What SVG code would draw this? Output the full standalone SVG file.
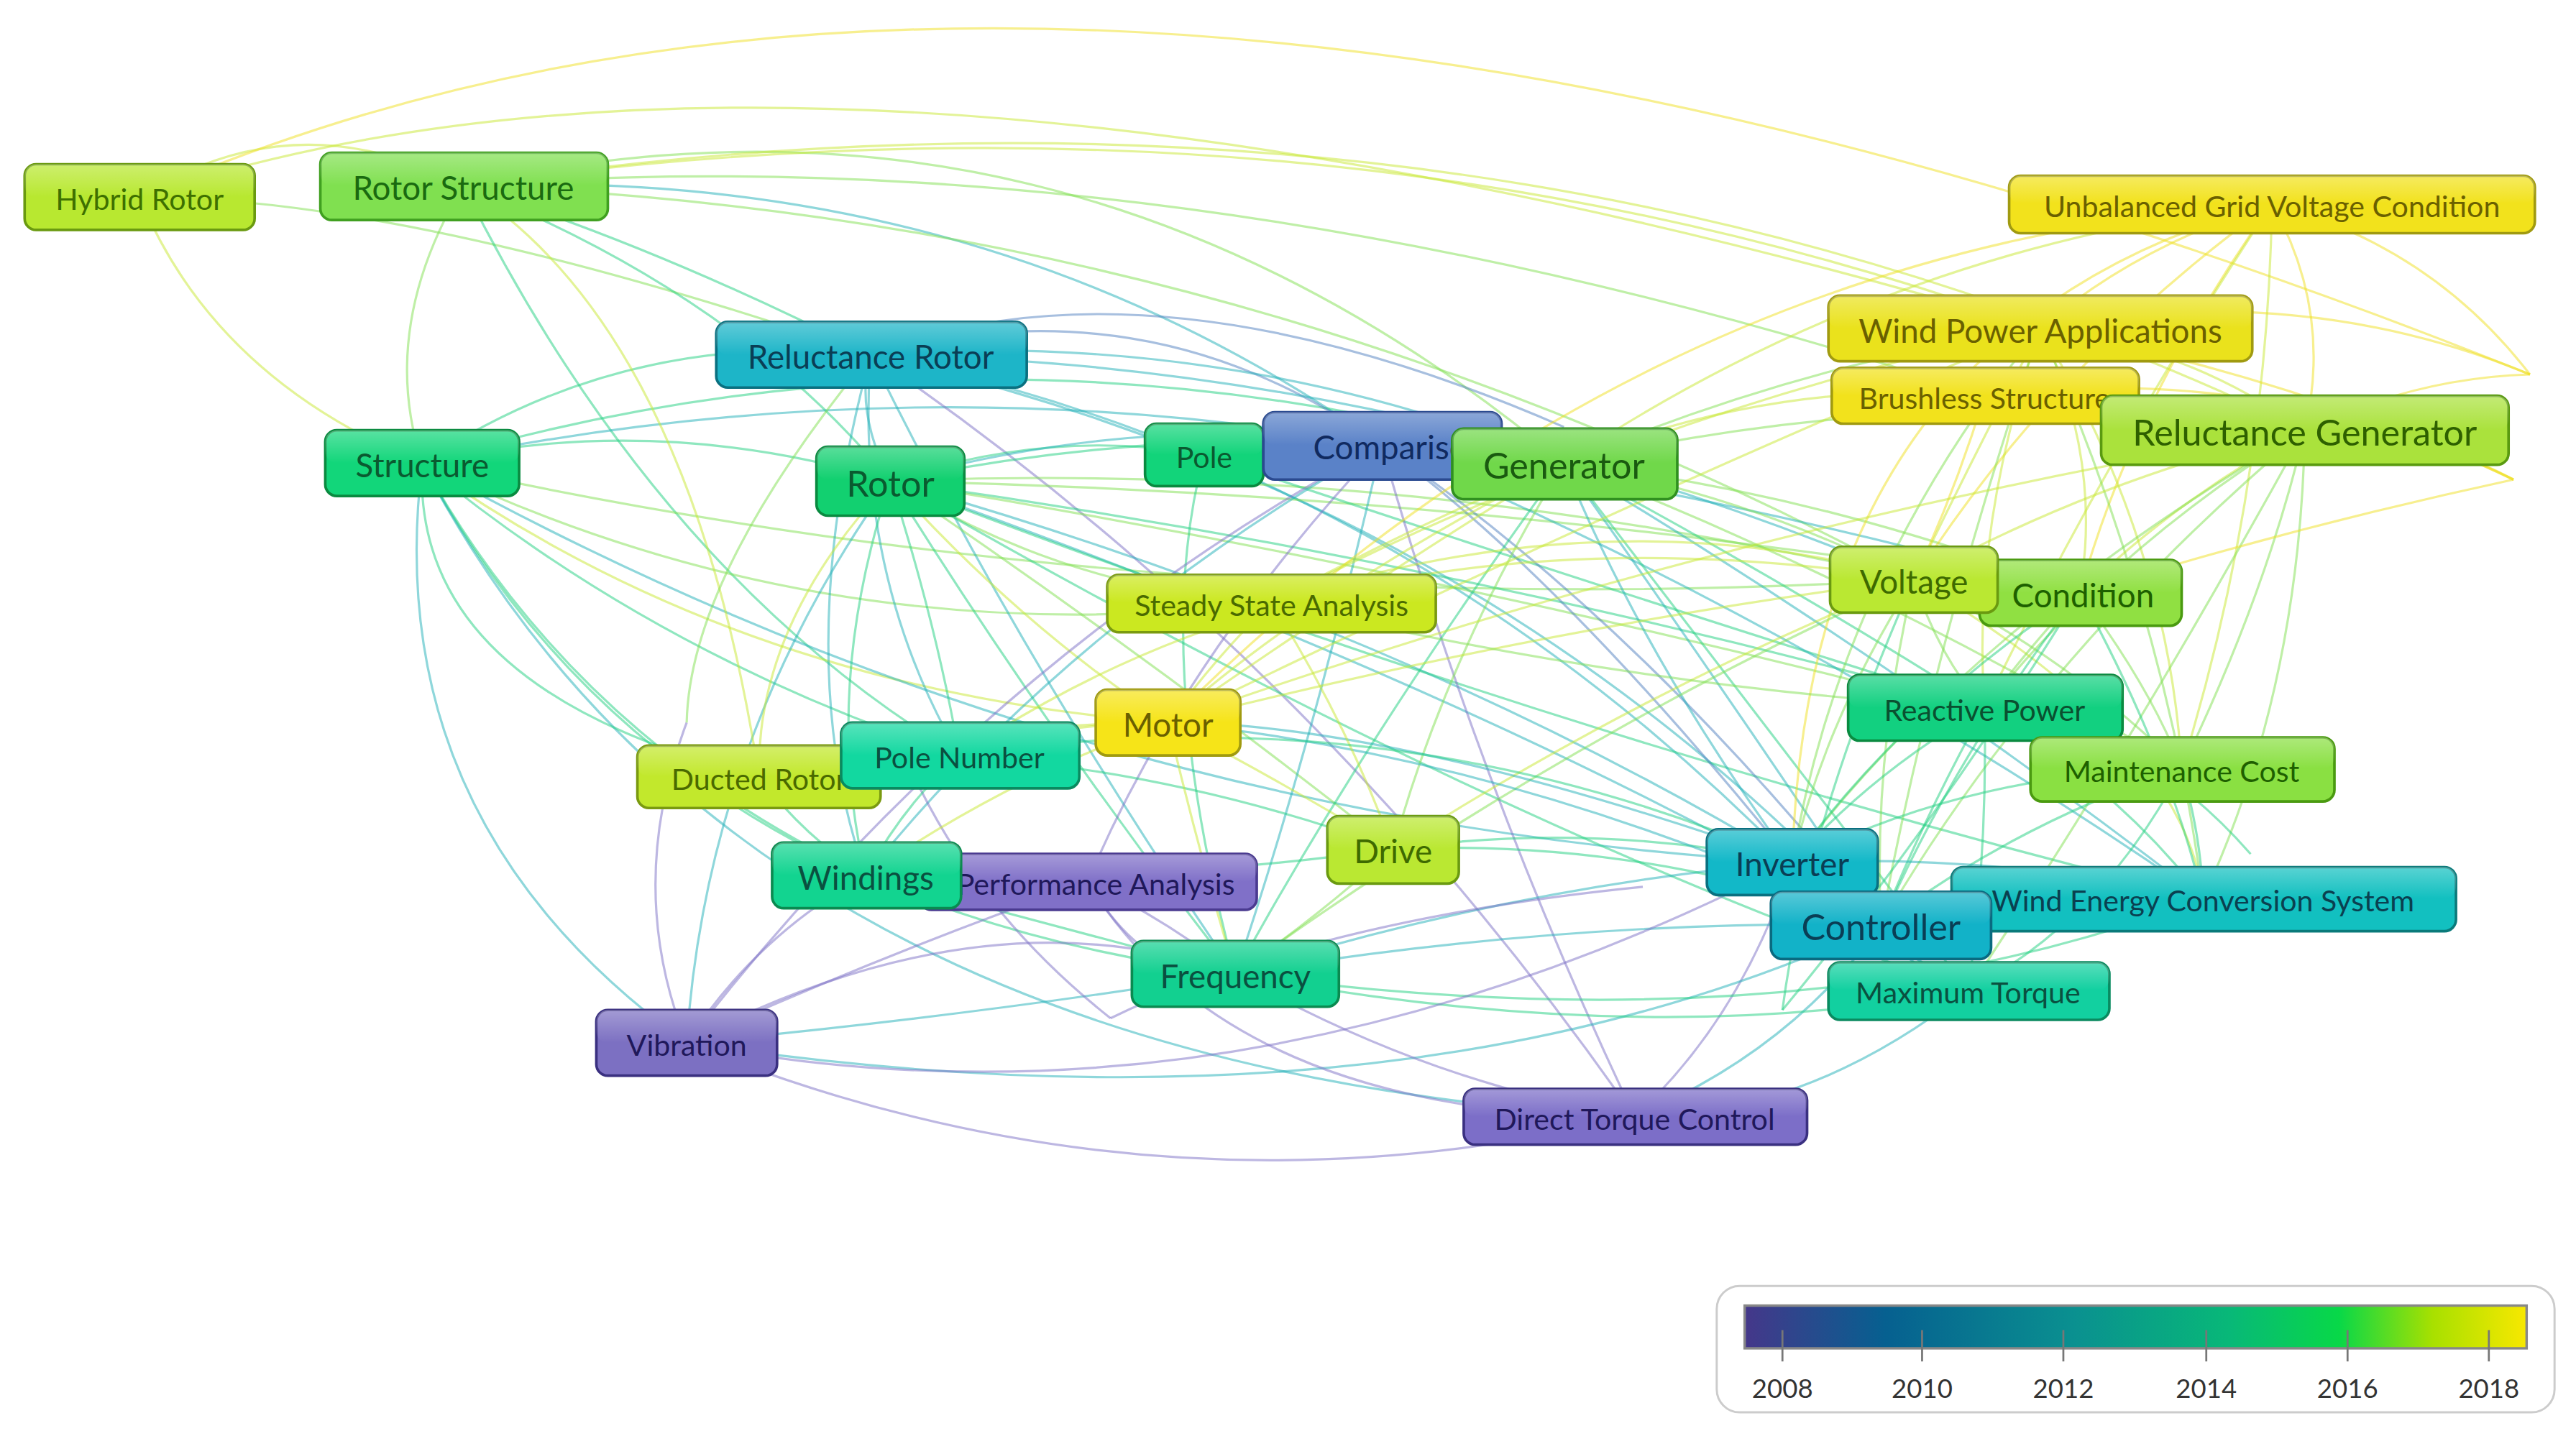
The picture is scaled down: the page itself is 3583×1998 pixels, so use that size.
<svg xmlns="http://www.w3.org/2000/svg" width="3583" height="1998" viewBox="0 0 3583 1998">
<defs>
<style>
.e{fill:none;stroke-width:1.4;opacity:.5}
.p{stroke:#7b6fc6}.b{stroke:#4f80c0}.t{stroke:#20b0b8}.g{stroke:#20d080}.lg{stroke:#80e050}.l{stroke:#c8e830}.y{stroke:#f0e020}
.n rect{stroke-width:1.6}
.n text{font-family:Lato,"Open Sans","Liberation Sans",sans-serif;text-anchor:middle;dominant-baseline:central}
.gl{fill:url(#gloss);stroke:none}
</style>
<linearGradient id="gloss" x1="0" y1="0" x2="0" y2="1"><stop offset="0" stop-color="#fff" stop-opacity=".3"/><stop offset="1" stop-color="#fff" stop-opacity="0"/></linearGradient>
<linearGradient id="leg" x1="0" y1="0" x2="1" y2="0">
<stop offset="0" stop-color="#45378a"/><stop offset=".18" stop-color="#066090"/><stop offset=".42" stop-color="#0a9090"/><stop offset=".62" stop-color="#08b878"/><stop offset=".76" stop-color="#08d848"/><stop offset=".88" stop-color="#a8e000"/><stop offset="1" stop-color="#f8e800"/></linearGradient>
</defs>
<rect width="3583" height="1998" fill="#fff"/>
<g transform="scale(2.285)">
<g id="edges">
<path class="e l" d="M85 120 Q180 60 282 113"/>
<path class="e l" d="M85 120 Q130 230 257 282"/>
<path class="e lg" d="M85 120 Q250 120 530 216"/>
<path class="e y" d="M85 120 Q650 -130 1540 228"/>
<path class="e l" d="M85 120 Q500 -20 1242 200"/>
<path class="e lg" d="M282 113 Q230 200 257 282"/>
<path class="e g" d="M282 113 Q400 150 530 216"/>
<path class="e g" d="M282 113 Q450 180 542 293"/>
<path class="e lg" d="M282 113 Q650 30 952 282"/>
<path class="e l" d="M282 113 Q800 40 1242 200"/>
<path class="e l" d="M282 113 Q900 20 1403 262"/>
<path class="e t" d="M282 113 Q600 100 841 271"/>
<path class="e lg" d="M282 113 Q750 130 1165 353"/>
<path class="e g" d="M282 113 Q400 350 584 460"/>
<path class="e lg" d="M282 113 Q720 80 1208 241"/>
<path class="e g" d="M257 282 Q400 250 542 293"/>
<path class="e g" d="M257 282 Q380 200 530 216"/>
<path class="e g" d="M257 282 Q600 180 952 282"/>
<path class="e t" d="M257 282 Q550 220 841 271"/>
<path class="e t" d="M257 282 Q230 500 418 635"/>
<path class="e g" d="M257 282 Q350 450 527 533"/>
<path class="e g" d="M257 282 Q400 400 584 460"/>
<path class="e g" d="M257 282 Q400 550 752 593"/>
<path class="e lg" d="M257 282 Q500 400 774 367"/>
<path class="e l" d="M257 282 Q450 420 711 440"/>
<path class="e lg" d="M257 282 Q700 380 1165 353"/>
<path class="e t" d="M257 282 Q450 650 995 680"/>
<path class="e t" d="M257 282 Q650 500 1091 525"/>
<path class="e g" d="M257 282 Q250 420 462 473"/>
<path class="e b" d="M530 216 Q700 170 841 271"/>
<path class="e t" d="M530 216 Q750 200 952 282"/>
<path class="e t" d="M530 216 Q520 250 542 293"/>
<path class="e t" d="M530 216 Q520 350 584 460"/>
<path class="e t" d="M530 216 Q850 280 1091 525"/>
<path class="e t" d="M530 216 Q900 300 1145 563"/>
<path class="e t" d="M530 216 Q480 400 527 533"/>
<path class="e t" d="M530 216 Q620 400 752 593"/>
<path class="e p" d="M530 216 Q800 400 995 680"/>
<path class="e t" d="M530 216 Q850 220 1165 353"/>
<path class="e b" d="M530 216 Q700 150 952 260"/>
<path class="e g" d="M542 293 Q750 250 952 282"/>
<path class="e g" d="M542 293 Q640 260 733 277"/>
<path class="e t" d="M542 293 Q700 250 841 271"/>
<path class="e lg" d="M542 293 Q650 360 774 367"/>
<path class="e l" d="M542 293 Q620 380 711 440"/>
<path class="e g" d="M542 293 Q570 380 584 460"/>
<path class="e g" d="M542 293 Q500 420 527 533"/>
<path class="e g" d="M542 293 Q640 450 752 593"/>
<path class="e lg" d="M542 293 Q700 400 848 517"/>
<path class="e t" d="M542 293 Q850 380 1091 525"/>
<path class="e t" d="M542 293 Q900 420 1145 563"/>
<path class="e lg" d="M542 293 Q850 280 1165 353"/>
<path class="e lg" d="M542 293 Q900 300 1266 361"/>
<path class="e g" d="M542 293 Q880 340 1208 431"/>
<path class="e lg" d="M542 293 Q950 360 1328 468"/>
<path class="e t" d="M542 293 Q430 450 418 635"/>
<path class="e l" d="M542 293 Q460 380 462 473"/>
<path class="e g" d="M542 293 Q950 450 1341 547"/>
<path class="e g" d="M542 293 Q900 500 1198 603"/>
<path class="e g" d="M733 277 Q840 250 952 282"/>
<path class="e g" d="M733 277 Q700 400 752 593"/>
<path class="e g" d="M733 277 Q950 350 1208 431"/>
<path class="e b" d="M841 271 Q900 250 952 282"/>
<path class="e b" d="M841 271 Q950 350 1091 525"/>
<path class="e b" d="M841 271 Q1000 380 1145 563"/>
<path class="e t" d="M841 271 Q800 450 752 593"/>
<path class="e p" d="M841 271 Q900 480 995 680"/>
<path class="e p" d="M841 271 Q600 400 418 635"/>
<path class="e p" d="M841 271 Q720 400 662 537"/>
<path class="e t" d="M841 271 Q650 380 527 533"/>
<path class="e t" d="M841 271 Q1050 300 1266 361"/>
<path class="e t" d="M841 271 Q1100 380 1341 547"/>
<path class="e lg" d="M952 282 Q1100 220 1242 200"/>
<path class="e lg" d="M952 282 Q1180 230 1403 262"/>
<path class="e lg" d="M952 282 Q1060 300 1165 353"/>
<path class="e lg" d="M952 282 Q1110 300 1266 361"/>
<path class="e g" d="M952 282 Q1080 350 1208 431"/>
<path class="e lg" d="M952 282 Q1150 360 1328 468"/>
<path class="e t" d="M952 282 Q1000 400 1091 525"/>
<path class="e t" d="M952 282 Q1050 420 1145 563"/>
<path class="e t" d="M952 282 Q1150 400 1341 547"/>
<path class="e g" d="M952 282 Q1080 450 1198 603"/>
<path class="e lg" d="M952 282 Q880 400 848 517"/>
<path class="e g" d="M952 282 Q830 450 752 593"/>
<path class="e l" d="M952 282 Q860 320 774 367"/>
<path class="e l" d="M952 282 Q1080 230 1208 241"/>
<path class="e l" d="M952 282 Q1150 150 1383 124"/>
<path class="e l" d="M952 282 Q800 360 711 440"/>
<path class="e y" d="M1383 124 Q1300 150 1242 200"/>
<path class="e y" d="M1383 124 Q1420 190 1403 262"/>
<path class="e y" d="M1383 124 Q1250 220 1165 353"/>
<path class="e y" d="M1383 124 Q1300 240 1266 361"/>
<path class="e l" d="M1383 124 Q1280 280 1208 431"/>
<path class="e l" d="M1383 124 Q1380 300 1328 468"/>
<path class="e y" d="M1383 124 Q1480 150 1540 228"/>
<path class="e y" d="M1383 124 Q1100 200 1091 525"/>
<path class="e y" d="M1383 124 Q1000 150 711 440"/>
<path class="e l" d="M1242 200 Q1330 210 1403 262"/>
<path class="e l" d="M1242 200 Q1200 280 1165 353"/>
<path class="e l" d="M1242 200 Q1280 280 1266 361"/>
<path class="e l" d="M1242 200 Q1200 320 1208 431"/>
<path class="e l" d="M1242 200 Q1320 330 1328 468"/>
<path class="e lg" d="M1242 200 Q1120 350 1091 525"/>
<path class="e lg" d="M1242 200 Q1180 380 1145 563"/>
<path class="e lg" d="M1242 200 Q1320 380 1341 547"/>
<path class="e y" d="M1242 200 Q1400 170 1540 228"/>
<path class="e y" d="M1242 200 Q1400 230 1530 292"/>
<path class="e l" d="M1403 262 Q1280 290 1165 353"/>
<path class="e l" d="M1403 262 Q1330 300 1266 361"/>
<path class="e lg" d="M1403 262 Q1290 330 1208 431"/>
<path class="e lg" d="M1403 262 Q1380 360 1328 468"/>
<path class="e lg" d="M1403 262 Q1200 380 1091 525"/>
<path class="e lg" d="M1403 262 Q1240 400 1145 563"/>
<path class="e lg" d="M1403 262 Q1400 420 1341 547"/>
<path class="e lg" d="M1403 262 Q1300 450 1198 603"/>
<path class="e y" d="M1403 262 Q1470 260 1530 292"/>
<path class="e y" d="M1403 262 Q1470 230 1540 228"/>
<path class="e y" d="M1208 241 Q1380 220 1530 292"/>
<path class="e y" d="M1208 241 Q1190 300 1165 353"/>
<path class="e l" d="M1165 353 Q1215 345 1266 361"/>
<path class="e lg" d="M1165 353 Q1110 440 1091 525"/>
<path class="e lg" d="M1165 353 Q1140 460 1145 563"/>
<path class="e lg" d="M1165 353 Q1180 400 1208 431"/>
<path class="e lg" d="M1165 353 Q1260 400 1328 468"/>
<path class="e l" d="M1165 353 Q1000 420 848 517"/>
<path class="e lg" d="M1165 353 Q950 450 752 593"/>
<path class="e l" d="M1165 353 Q950 380 711 440"/>
<path class="e l" d="M1165 353 Q1330 450 1341 547"/>
<path class="e lg" d="M1266 361 Q1230 400 1208 431"/>
<path class="e lg" d="M1266 361 Q1310 420 1328 468"/>
<path class="e g" d="M1266 361 Q1160 430 1091 525"/>
<path class="e g" d="M1266 361 Q1190 460 1145 563"/>
<path class="e g" d="M1266 361 Q1320 460 1341 547"/>
<path class="e y" d="M1266 361 Q1400 320 1530 292"/>
<path class="e g" d="M1208 431 Q1140 470 1091 525"/>
<path class="e g" d="M1208 431 Q1170 500 1145 563"/>
<path class="e g" d="M1208 431 Q1290 480 1341 547"/>
<path class="e g" d="M1208 431 Q1210 520 1198 603"/>
<path class="e g" d="M1208 431 Q1270 440 1328 468"/>
<path class="e g" d="M1208 431 Q1300 440 1370 520"/>
<path class="e g" d="M1328 468 Q1340 510 1341 547"/>
<path class="e g" d="M1328 468 Q1230 500 1145 563"/>
<path class="e g" d="M1328 468 Q1200 470 1091 525"/>
<path class="e g" d="M1328 468 Q1280 560 1198 603"/>
<path class="e t" d="M1091 525 Q1110 550 1145 563"/>
<path class="e t" d="M1091 525 Q1220 520 1341 547"/>
<path class="e t" d="M1091 525 Q1140 570 1198 603"/>
<path class="e g" d="M1091 525 Q970 500 848 517"/>
<path class="e t" d="M1091 525 Q920 540 752 593"/>
<path class="e p" d="M1091 525 Q1060 620 995 680"/>
<path class="e t" d="M1091 525 Q850 440 711 440"/>
<path class="e t" d="M1145 563 Q1240 540 1341 547"/>
<path class="e t" d="M1145 563 Q1160 590 1198 603"/>
<path class="e t" d="M1145 563 Q1090 640 995 680"/>
<path class="e t" d="M1145 563 Q950 560 752 593"/>
<path class="e g" d="M1145 563 Q1000 510 848 517"/>
<path class="e t" d="M1145 563 Q920 460 711 440"/>
<path class="e t" d="M1145 563 Q850 700 418 635"/>
<path class="e g" d="M1198 603 Q1000 640 752 593"/>
<path class="e t" d="M1198 603 Q1100 680 995 680"/>
<path class="e g" d="M1341 547 Q1100 640 752 593"/>
<path class="e g" d="M1085 615 Q1100 500 1165 353"/>
<path class="e g" d="M1085 615 Q1180 500 1266 361"/>
<path class="e lg" d="M848 517 Q800 560 752 593"/>
<path class="e l" d="M848 517 Q770 470 711 440"/>
<path class="e l" d="M848 517 Q820 440 774 367"/>
<path class="e g" d="M848 517 Q720 470 584 460"/>
<path class="e g" d="M848 517 Q680 540 527 533"/>
<path class="e p" d="M752 593 Q710 560 662 537"/>
<path class="e g" d="M752 593 Q630 560 527 533"/>
<path class="e t" d="M752 593 Q580 620 418 635"/>
<path class="e p" d="M752 593 Q870 660 995 680"/>
<path class="e l" d="M752 593 Q730 520 711 440"/>
<path class="e p" d="M418 635 Q540 580 662 537"/>
<path class="e p" d="M418 635 Q460 570 527 533"/>
<path class="e p" d="M418 635 Q700 750 995 680"/>
<path class="e p" d="M418 635 Q600 540 752 593"/>
<path class="e p" d="M418 635 Q750 700 1091 525"/>
<path class="e p" d="M418 635 Q380 540 418 440"/>
<path class="e p" d="M662 537 Q750 680 995 680"/>
<path class="e p" d="M662 537 Q700 600 752 593"/>
<path class="e p" d="M662 537 Q590 520 527 533"/>
<path class="e p" d="M676 620 Q800 560 1000 540"/>
<path class="e p" d="M676 620 Q600 560 560 480"/>
<path class="e g" d="M527 533 Q550 490 584 460"/>
<path class="e l" d="M527 533 Q620 470 711 440"/>
<path class="e g" d="M462 473 Q520 460 584 460"/>
<path class="e l" d="M462 473 Q590 440 711 440"/>
<path class="e g" d="M462 473 Q490 510 527 533"/>
<path class="e l" d="M462 473 Q420 200 282 113"/>
<path class="e l" d="M711 440 Q740 400 774 367"/>
<path class="e l" d="M711 440 Q640 440 584 460"/>
<path class="e l" d="M711 440 Q840 350 952 282"/>
<path class="e l" d="M711 440 Q1000 300 1242 200"/>
<path class="e l" d="M711 440 Q1050 320 1403 262"/>
<path class="e l" d="M774 367 Q980 300 1165 353"/>
<path class="e l" d="M774 367 Q1000 250 1242 200"/>
<path class="e lg" d="M774 367 Q1000 420 1208 431"/>
<path class="e l" d="M584 460 Q820 300 1165 353"/>
<path class="e g" d="M584 460 Q850 420 1091 525"/>
<path class="e lg" d="M418 440 Q420 350 530 216"/>
</g>
<g id="n-hybrid-rotor" class="n"><rect x="15" y="100" width="140" height="40" rx="7" fill="#b8e830" stroke="#6a9a10"/><rect class="gl" x="15" y="100" width="140" height="20" rx="7"/><text x="85" y="121" font-size="18" fill="#3e7000">Hybrid Rotor</text></g>
<g id="n-rotor-structure" class="n"><rect x="195" y="93" width="175" height="41" rx="7" fill="#80e050" stroke="#40a020"/><rect class="gl" x="195" y="93" width="175" height="20" rx="7"/><text x="282" y="114" font-size="20" fill="#1a6a10">Rotor Structure</text></g>
<g id="n-reluctance-rotor" class="n"><rect x="436" y="196" width="189" height="40" rx="7" fill="#1db5c8" stroke="#0a7080"/><rect class="gl" x="436" y="196" width="189" height="20" rx="7"/><text x="530" y="217" font-size="20" fill="#0a3e55">Reluctance Rotor</text></g>
<g id="n-structure" class="n"><rect x="198" y="262" width="118" height="40" rx="7" fill="#12d67a" stroke="#0a8a40"/><rect class="gl" x="198" y="262" width="118" height="20" rx="7"/><text x="257" y="283" font-size="20" fill="#0a5a30">Structure</text></g>
<g id="n-rotor" class="n"><rect x="497" y="272" width="90" height="42" rx="7" fill="#12d070" stroke="#0a8a40"/><rect class="gl" x="497" y="272" width="90" height="20" rx="7"/><text x="542" y="294" font-size="22" fill="#0a5a30">Rotor</text></g>
<g id="n-pole" class="n"><rect x="697" y="258" width="72" height="38" rx="7" fill="#12d47a" stroke="#0a8a40"/><rect class="gl" x="697" y="258" width="72" height="19" rx="7"/><text x="733" y="278" font-size="18" fill="#0a5a30">Pole</text></g>
<g id="n-comparison" class="n"><rect x="769" y="251" width="145" height="41" rx="7" fill="#5a82c8" stroke="#2a4a90"/><rect class="gl" x="769" y="251" width="145" height="20" rx="7"/><text x="852" y="272" font-size="20" fill="#102a60">Comparison</text></g>
<g id="n-generator" class="n"><rect x="884" y="261" width="137" height="43" rx="7" fill="#70d84a" stroke="#309020"/><rect class="gl" x="884" y="261" width="137" height="21" rx="7"/><text x="952" y="283" font-size="22" fill="#1a5a10">Generator</text></g>
<g id="n-steady" class="n"><rect x="674" y="350" width="200" height="35" rx="7" fill="#cbe820" stroke="#7a9a10"/><rect class="gl" x="674" y="350" width="200" height="17" rx="7"/><text x="774" y="368" font-size="18" fill="#4a6a00">Steady State Analysis</text></g>
<g id="n-motor" class="n"><rect x="667" y="420" width="88" height="40" rx="7" fill="#f6e418" stroke="#a09a10"/><rect class="gl" x="667" y="420" width="88" height="20" rx="7"/><text x="711" y="441" font-size="20" fill="#6a6000">Motor</text></g>
<g id="n-ducted" class="n"><rect x="388" y="454" width="148" height="38" rx="7" fill="#c2e82c" stroke="#7a9a10"/><rect class="gl" x="388" y="454" width="148" height="19" rx="7"/><text x="462" y="474" font-size="18" fill="#4a6a00">Ducted Rotor</text></g>
<g id="n-pole-number" class="n"><rect x="512" y="440" width="145" height="40" rx="7" fill="#12d8a0" stroke="#0a8a60"/><rect class="gl" x="512" y="440" width="145" height="20" rx="7"/><text x="584" y="461" font-size="18" fill="#0a5040">Pole Number</text></g>
<g id="n-performance" class="n"><rect x="560" y="520" width="205" height="34" rx="7" fill="#8070c8" stroke="#4a3a90"/><rect class="gl" x="560" y="520" width="205" height="17" rx="7"/><text x="667" y="538" font-size="18" fill="#20185a">Performance Analysis</text></g>
<g id="n-windings" class="n"><rect x="470" y="513" width="115" height="40" rx="7" fill="#12d490" stroke="#0a8a50"/><rect class="gl" x="470" y="513" width="115" height="20" rx="7"/><text x="527" y="534" font-size="20" fill="#0a5040">Windings</text></g>
<g id="n-drive" class="n"><rect x="808" y="497" width="80" height="41" rx="7" fill="#bae832" stroke="#6a9a10"/><rect class="gl" x="808" y="497" width="80" height="20" rx="7"/><text x="848" y="518" font-size="20" fill="#3e6a00">Drive</text></g>
<g id="n-frequency" class="n"><rect x="689" y="573" width="126" height="40" rx="7" fill="#12d090" stroke="#0a8a50"/><rect class="gl" x="689" y="573" width="126" height="20" rx="7"/><text x="752" y="594" font-size="20" fill="#0a5040">Frequency</text></g>
<g id="n-vibration" class="n"><rect x="363" y="615" width="110" height="40" rx="7" fill="#7c70c2" stroke="#3a3080"/><rect class="gl" x="363" y="615" width="110" height="20" rx="7"/><text x="418" y="636" font-size="18" fill="#20185a">Vibration</text></g>
<g id="n-dtc" class="n"><rect x="891" y="663" width="209" height="34" rx="7" fill="#7c6ec8" stroke="#3a3080"/><rect class="gl" x="891" y="663" width="209" height="17" rx="7"/><text x="995" y="681" font-size="18" fill="#20185a">Direct Torque Control</text></g>
<g id="n-unbalanced" class="n"><rect x="1223" y="107" width="320" height="35" rx="7" fill="#f2e21c" stroke="#a09a10"/><rect class="gl" x="1223" y="107" width="320" height="17" rx="7"/><text x="1383" y="125" font-size="18" fill="#6a6000">Unbalanced Grid Voltage Condition</text></g>
<g id="n-wind-power" class="n"><rect x="1113" y="180" width="258" height="40" rx="7" fill="#eae21c" stroke="#a09a10"/><rect class="gl" x="1113" y="180" width="258" height="20" rx="7"/><text x="1242" y="201" font-size="20" fill="#6a6000">Wind Power Applications</text></g>
<g id="n-brushless" class="n"><rect x="1115" y="224" width="187" height="34" rx="7" fill="#f2e21c" stroke="#a09a10"/><rect class="gl" x="1115" y="224" width="187" height="17" rx="7"/><text x="1208" y="242" font-size="18" fill="#6a6000">Brushless Structure</text></g>
<g id="n-rel-gen" class="n"><rect x="1279" y="241" width="248" height="42" rx="7" fill="#aae23c" stroke="#5a9a10"/><rect class="gl" x="1279" y="241" width="248" height="21" rx="7"/><text x="1403" y="263" font-size="22" fill="#2e6000">Reluctance Generator</text></g>
<g id="n-condition" class="n"><rect x="1205" y="341" width="123" height="40" rx="7" fill="#90e042" stroke="#4a9a10"/><rect class="gl" x="1205" y="341" width="123" height="20" rx="7"/><text x="1268" y="362" font-size="20" fill="#1e6000">Condition</text></g>
<g id="n-voltage" class="n"><rect x="1114" y="333" width="102" height="40" rx="7" fill="#bae832" stroke="#6a9a10"/><rect class="gl" x="1114" y="333" width="102" height="20" rx="7"/><text x="1165" y="354" font-size="20" fill="#3e6a00">Voltage</text></g>
<g id="n-reactive" class="n"><rect x="1125" y="411" width="167" height="40" rx="7" fill="#12d080" stroke="#0a8a40"/><rect class="gl" x="1125" y="411" width="167" height="20" rx="7"/><text x="1208" y="432" font-size="18" fill="#0a5030">Reactive Power</text></g>
<g id="n-maintenance" class="n"><rect x="1236" y="449" width="185" height="39" rx="7" fill="#8ae042" stroke="#4a9a10"/><rect class="gl" x="1236" y="449" width="185" height="19" rx="7"/><text x="1328" y="469" font-size="18" fill="#1e6000">Maintenance Cost</text></g>
<g id="n-inverter" class="n"><rect x="1039" y="505" width="104" height="40" rx="7" fill="#12b8c8" stroke="#0a7080"/><rect class="gl" x="1039" y="505" width="104" height="20" rx="7"/><text x="1091" y="526" font-size="20" fill="#0a3e55">Inverter</text></g>
<g id="n-wecs" class="n"><rect x="1188" y="528" width="307" height="39" rx="7" fill="#12c0c0" stroke="#0a7a7a"/><rect class="gl" x="1188" y="528" width="307" height="19" rx="7"/><text x="1341" y="548" font-size="18" fill="#0a4050">Wind Energy Conversion System</text></g>
<g id="n-controller" class="n"><rect x="1078" y="543" width="134" height="41" rx="7" fill="#12b2c8" stroke="#0a6a80"/><rect class="gl" x="1078" y="543" width="134" height="20" rx="7"/><text x="1145" y="564" font-size="22" fill="#0a3e55">Controller</text></g>
<g id="n-max-torque" class="n"><rect x="1113" y="586" width="171" height="35" rx="7" fill="#12d0a0" stroke="#0a8a60"/><rect class="gl" x="1113" y="586" width="171" height="17" rx="7"/><text x="1198" y="604" font-size="18" fill="#0a5040">Maximum Torque</text></g>
<g id="legend">
<rect x="1045" y="783" width="510" height="77" rx="14" fill="#fff" stroke="#ccc" stroke-width="1.3"/>
<rect x="1062" y="795" width="476" height="26" fill="url(#leg)" stroke="#888" stroke-width="1.5"/>
<g stroke="#777" stroke-width="1.2"><path d="M1085 810V829M1170 810V829M1256 810V829M1343 810V829M1429 810V829M1515 810V829"/></g>
<g font-family="Lato,'Open Sans','Liberation Sans',sans-serif" font-size="16" fill="#333" text-anchor="middle">
<text x="1085" y="851">2008</text><text x="1170" y="851">2010</text><text x="1256" y="851">2012</text><text x="1343" y="851">2014</text><text x="1429" y="851">2016</text><text x="1515" y="851">2018</text></g>
</g>
</g>
</svg>
